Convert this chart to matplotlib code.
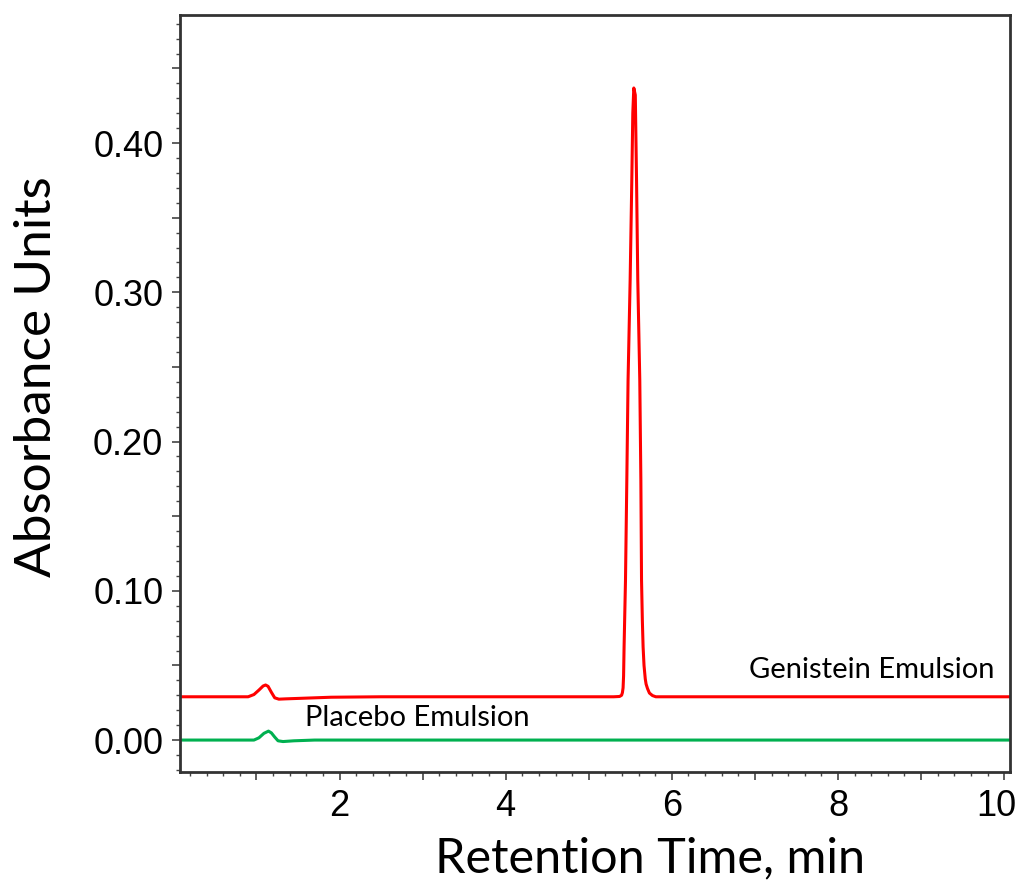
import matplotlib
matplotlib.use('Agg')
import matplotlib.pyplot as plt
from matplotlib.ticker import MultipleLocator, FuncFormatter
from matplotlib.transforms import ScaledTranslation

# retention time (min) and absorbance
genistein_time = [0.08, 0.90, 0.97, 1.03, 1.08, 1.11, 1.14, 1.18, 1.22, 1.27, 1.35, 1.60, 1.90,
                  2.50, 3.50, 4.50, 5.00, 5.30, 5.37, 5.395, 5.405, 5.413, 5.419, 5.425, 5.442,
                  5.458, 5.473, 5.498, 5.518, 5.530, 5.542, 5.560, 5.575, 5.590, 5.614, 5.627,
                  5.635, 5.645, 5.654, 5.665, 5.68, 5.69, 5.707, 5.73, 5.767, 5.807, 6.00, 7.00,
                  8.00, 9.00, 10.07]
genistein_abs = [0.0290, 0.0290, 0.0305, 0.0335, 0.0362, 0.0369, 0.0360, 0.0320, 0.0283, 0.0274,
                 0.0276, 0.0281, 0.0287, 0.0290, 0.0290, 0.0290, 0.0290, 0.0290, 0.0292, 0.0300,
                 0.0318, 0.0350, 0.0430, 0.0623, 0.1072, 0.1742, 0.2412, 0.3082, 0.3752, 0.4201,
                 0.4369, 0.4322, 0.3752, 0.3082, 0.2412, 0.1742, 0.1072, 0.0800, 0.0623, 0.0500,
                 0.0410, 0.0375, 0.0345, 0.0315, 0.0298, 0.0290, 0.0290, 0.0290, 0.0290, 0.0290,
                 0.0290]

placebo_time = [0.08, 0.97, 1.03, 1.09, 1.145, 1.18, 1.22, 1.26, 1.32, 1.45, 1.70, 10.07]
placebo_abs = [0.0, 0.0, 0.0015, 0.0045, 0.0060, 0.0048, 0.0020, -0.0005, -0.0010, -0.0005, 0.0, 0.0]

fig = plt.figure(figsize=(10.21, 8.94), dpi=100)
ax = fig.add_axes([180 / 1021, 1 - 772 / 894, 830 / 1021, 757 / 894])

ax.plot(genistein_time, genistein_abs, color='#FF0000', lw=2.2)
ax.plot(placebo_time, placebo_abs, color='#00B050', lw=2.2)

ax.text(6.93, 0.047, 'Genistein Emulsion', fontsize=21, family='Lato', va='center')
ax.text(1.59, 0.0147, 'Placebo Emulsion', fontsize=21, family='Lato', va='center')

ax.set_xlim(0.08, 10.07)
ax.set_ylim(-0.0214, 0.4858)

ax.xaxis.set_major_locator(MultipleLocator(1))
ax.xaxis.set_minor_locator(MultipleLocator(0.2))
ax.xaxis.set_major_formatter(FuncFormatter(lambda v, p: f'{v:.0f}' if round(v) % 2 == 0 and v > 0.5 else ''))
ax.yaxis.set_major_locator(MultipleLocator(0.05))
ax.yaxis.set_minor_locator(MultipleLocator(0.01))
ax.yaxis.set_major_formatter(FuncFormatter(lambda v, p: f'{v:.2f}' if round(v * 100) % 10 == 0 else ''))

ax.tick_params(which='major', length=6, width=1.2, color='#444444', labelsize=26, pad=6)
ax.tick_params(which='minor', length=3, width=1, color='#444444')

for side in ['left', 'bottom', 'right', 'top']:
    ax.spines[side].set_linewidth(2)
    ax.spines[side].set_color('#333333')

ax.set_xlabel('Retention Time, min', fontsize=35, family='Lato', va='center')
ax.set_ylabel('Absorbance Units', fontsize=37, family='Lato', va='center')
ax.xaxis.set_label_coords(0.566, -0.1136)
ax.yaxis.set_label_coords(-0.172, 0.522)

fig.canvas.draw()
for lab in ax.get_xticklabels() + ax.get_yticklabels():
    lab.set_family('Liberation Sans')
    if lab.get_text() == '10':
        # last label sits against the image edge, nudge it in like the original
        lab.set_transform(lab.get_transform() + ScaledTranslation(-0.08, 0, fig.dpi_scale_trans))

fig.savefig('out.png', dpi=100)
